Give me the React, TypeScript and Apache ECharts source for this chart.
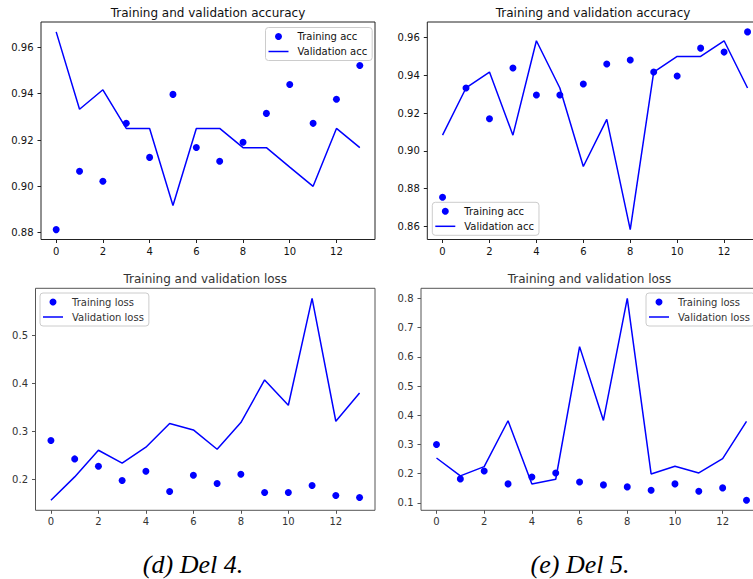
import React, { useEffect, useRef } from "react";
import * as echarts from "echarts";

const epochs: number[] = [0, 1, 2, 3, 4, 5, 6, 7, 8, 9, 10, 11, 12, 13];
const epochTicks: number[] = [0, 2, 4, 6, 8, 10, 12];

const acc4Train: number[] = [0.8813, 0.9065, 0.9022, 0.9272, 0.9125, 0.9397, 0.9168, 0.9108, 0.919, 0.9315, 0.944, 0.9272, 0.9376, 0.9522];
const acc4Val: number[] = [0.9667, 0.9333, 0.9417, 0.925, 0.925, 0.8917, 0.925, 0.925, 0.9167, 0.9167, 0.9083, 0.9, 0.925, 0.9167];
const acc5Train: number[] = [0.8754, 0.9333, 0.917, 0.9439, 0.9296, 0.9296, 0.9354, 0.946, 0.9481, 0.9418, 0.9396, 0.9544, 0.9523, 0.963];
const acc5Val: number[] = [0.9083, 0.9333, 0.9417, 0.9083, 0.9583, 0.9333, 0.8917, 0.9167, 0.8583, 0.9417, 0.95, 0.95, 0.9583, 0.9333];
const loss4Train: number[] = [0.2808, 0.2425, 0.2272, 0.1973, 0.2168, 0.1743, 0.2084, 0.191, 0.2105, 0.1722, 0.1722, 0.1868, 0.166, 0.1618];
const loss4Val: number[] = [0.1562, 0.2049, 0.2606, 0.2335, 0.2669, 0.3163, 0.3031, 0.2627, 0.3184, 0.4074, 0.3546, 0.5779, 0.3212, 0.3803];
const loss5Train: number[] = [0.3, 0.1823, 0.2096, 0.1652, 0.189, 0.2027, 0.172, 0.1618, 0.155, 0.1436, 0.1652, 0.1402, 0.1515, 0.1094];
const loss5Val: number[] = [0.2539, 0.1925, 0.2243, 0.3813, 0.1652, 0.1811, 0.635, 0.3825, 0.8, 0.1993, 0.2255, 0.2027, 0.2516, 0.3791];

const acc4Ticks: number[] = [0.88, 0.9, 0.92, 0.94, 0.96];
const acc5Ticks: number[] = [0.86, 0.88, 0.9, 0.92, 0.94, 0.96];
const loss4Ticks: number[] = [0.2, 0.3, 0.4, 0.5];
const loss5Ticks: number[] = [0.1, 0.2, 0.3, 0.4, 0.5, 0.6, 0.7, 0.8];

const accTitle = "Training and validation accuracy";
const lossTitle = "Training and validation loss";
const captions: string[] = ["(d) Del 4.", "(e) Del 5."];

const FONT = "DejaVu Sans";
const BLUE = "#0000ff";
const LINE_ICON = "path://M0,0H20V1.5H0Z";

function padded(values: number[]): [number, number] {
  const lo = Math.min(...values);
  const hi = Math.max(...values);
  const m = (hi - lo) * 0.05;
  return [lo - m, hi + m];
}

type Panel = {
  grid: { left: number; top: number; width: number; height: number };
  train: number[];
  val: number[];
  ticks: number[];
  digits: number;
  names: [string, string];
  title: string;
  legend: { left: number; top: number };
  ink: string;
  spine: string;
};

const panels: Panel[] = [
  {
    grid: { left: 41, top: 22, width: 334, height: 217.5 },
    train: acc4Train, val: acc4Val, ticks: acc4Ticks, digits: 2,
    names: ["Training acc", "Validation acc"], title: accTitle,
    legend: { left: 265.5, top: 27.5 }, ink: "#111", spine: "#222",
  },
  {
    grid: { left: 427.3, top: 22, width: 335.5, height: 217.5 },
    train: acc5Train, val: acc5Val, ticks: acc5Ticks, digits: 2,
    names: ["Training acc", "Validation acc"], title: accTitle,
    legend: { left: 432.3, top: 202.3 }, ink: "#111", spine: "#222",
  },
  {
    grid: { left: 35.5, top: 288.3, width: 339.5, height: 222 },
    train: loss4Train, val: loss4Val, ticks: loss4Ticks, digits: 1,
    names: ["Training loss", "Validation loss"], title: lossTitle,
    legend: { left: 40, top: 293 }, ink: "#333", spine: "#555",
  },
  {
    grid: { left: 421, top: 288.3, width: 341, height: 222 },
    train: loss5Train, val: loss5Val, ticks: loss5Ticks, digits: 1,
    names: ["Training loss", "Validation loss"], title: lossTitle,
    legend: { left: 646, top: 293 }, ink: "#333", spine: "#555",
  },
];

export default function App() {
  const ref = useRef<HTMLDivElement>(null);

  useEffect(() => {
    if (!ref.current) return;
    const chart = echarts.init(ref.current, undefined, { renderer: "svg" });
    const xRange = padded(epochs);

    const grids = panels.map((p) => ({
      ...p.grid,
      show: true,
      borderColor: p.spine,
      borderWidth: 1,
      backgroundColor: "transparent",
      containLabel: false,
      outerBoundsMode: "none",
    }));

    const xAxes = panels.map((p, i) => ({
      type: "value",
      gridIndex: i,
      position: "bottom",
      min: xRange[0],
      max: xRange[1],
      axisLine: { show: false, onZero: false },
      splitLine: { show: false },
      axisTick: { show: true, customValues: epochTicks, length: 3.5, lineStyle: { color: p.spine, width: 1 } },
      axisLabel: { customValues: epochTicks, fontSize: 10, fontFamily: FONT, color: p.ink, margin: 6.5 },
    }));

    const yAxes = panels.map((p, i) => {
      const r = padded([...p.train, ...p.val]);
      return {
        type: "value",
        gridIndex: i,
        position: "left",
        min: r[0],
        max: r[1],
        axisLine: { show: false, onZero: false },
        splitLine: { show: false },
        axisTick: { show: true, customValues: p.ticks, length: 3.5, lineStyle: { color: p.spine, width: 1 } },
        axisLabel: {
          customValues: p.ticks,
          fontSize: 10,
          fontFamily: FONT,
          color: p.ink,
          margin: 7.5,
          formatter: (v: number) => v.toFixed(p.digits),
        },
      };
    });

    const series: any[] = [];
    panels.forEach((p, i) => {
      series.push({
        type: "scatter",
        name: p.names[0],
        xAxisIndex: i,
        yAxisIndex: i,
        data: epochs.map((e, k) => [e, p.train[k]]),
        symbol: "circle",
        symbolSize: 7,
        itemStyle: { color: BLUE, opacity: 1 },
        z: 2,
      });
      series.push({
        type: "line",
        name: p.names[1],
        xAxisIndex: i,
        yAxisIndex: i,
        data: epochs.map((e, k) => [e, p.val[k]]),
        symbol: "none",
        showSymbol: false,
        lineStyle: { color: BLUE, width: 1.5 },
        itemStyle: { color: BLUE },
        z: 3,
      });
    });

    const legends = panels.map((p) => ({
      left: p.legend.left,
      top: p.legend.top,
      orient: "vertical",
      data: [
        { name: p.names[0], icon: "circle" },
        { name: p.names[1], icon: LINE_ICON },
      ],
      selectedMode: false,
      itemWidth: 20,
      itemHeight: 7,
      itemGap: 5,
      padding: [4, 5, 4, 3],
      backgroundColor: "rgba(255,255,255,0.8)",
      borderColor: "#cccccc",
      borderWidth: 1,
      borderRadius: 3,
      textStyle: { fontSize: 10, fontFamily: FONT, color: p.ink, padding: [0, 0, 0, 4] },
    }));

    const titleTexts = panels.map((p) => ({
      type: "text",
      x: p.grid.left + p.grid.width / 2 - (p.grid.left > 400 ? 2 : 0),
      y: p.grid.top - 9.5,
      style: {
        text: p.title,
        fontSize: 12,
        fontFamily: FONT,
        fill: p.ink,
        textAlign: "center",
        textVerticalAlign: "middle",
      },
    }));

    const captionTexts = captions.map((c, i) => ({
      type: "text",
      x: i === 0 ? 193 : 580,
      y: 564,
      style: {
        text: c,
        fontSize: 26,
        fontFamily: "Liberation Serif",
        fontStyle: "italic",
        fill: "#000",
        textAlign: "center",
        textVerticalAlign: "middle",
      },
    }));

    chart.setOption({
      animation: false,
      backgroundColor: "#ffffff",
      grid: grids,
      xAxis: xAxes,
      yAxis: yAxes,
      legend: legends,
      series,
      graphic: [...titleTexts, ...captionTexts],
    } as any);

    return () => chart.dispose();
  }, []);

  return (
    <div
      ref={ref}
      style={{ position: "absolute", left: 0, top: 0, width: 753, height: 579 }}
    />
  );
}
